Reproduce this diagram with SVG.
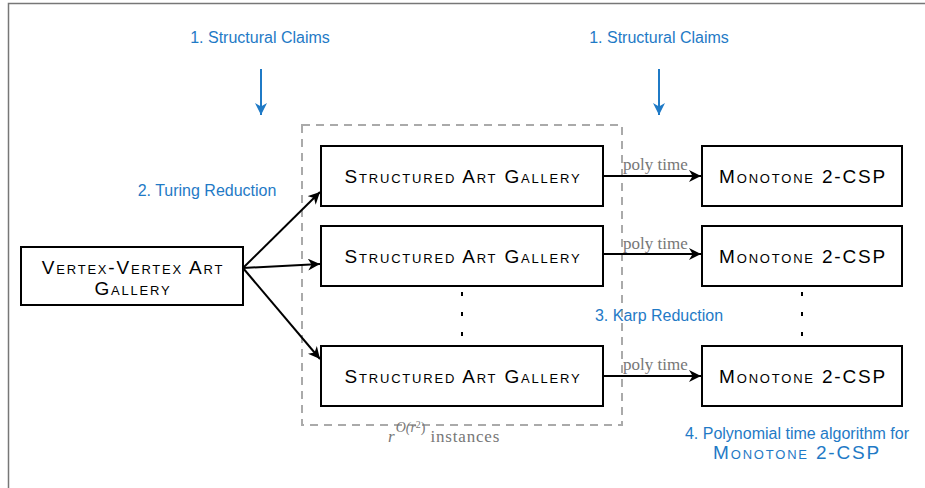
<svg xmlns="http://www.w3.org/2000/svg" width="925" height="488" viewBox="0 0 925 488">
<defs>
<style>
.box{fill:#fff;stroke:#000;stroke-width:2}
.sc{font-family:"Liberation Sans",Arial,sans-serif;font-size:19px;font-variant:small-caps;letter-spacing:1.8px;fill:#000;text-anchor:middle}
.blue{font-family:"Liberation Sans",Arial,sans-serif;font-size:16px;fill:#1f7ac6;text-anchor:middle}
.gray{font-family:"Liberation Serif","Times New Roman",serif;font-size:17px;fill:#777}
.ar{stroke:#000;stroke-width:2;fill:none;marker-end:url(#ah)}
.bar{stroke:#1f7ac6;stroke-width:2;fill:none;marker-end:url(#bh)}
.dot{fill:#000}
</style>
<marker id="ah" viewBox="0 0 10 10" refX="10" refY="5" markerWidth="6" markerHeight="6" markerUnits="strokeWidth" orient="auto"><path d="M0,0 L10,5 L0,10 L3,5 z" fill="#000"/></marker>
<marker id="bh" viewBox="0 0 10 10" refX="10" refY="5" markerWidth="6" markerHeight="6" markerUnits="strokeWidth" orient="auto"><path d="M0,0 L10,5 L0,10 L3,5 z" fill="#1f7ac6"/></marker>
</defs>
<rect width="925" height="488" fill="#fff"/>
<path d="M8.5,488 V3.5 H925" fill="none" stroke="#777" stroke-width="1.5"/>
<rect x="302" y="125" width="320" height="300" fill="none" stroke="#aaa" stroke-width="2" stroke-dasharray="8,6"/>
<g id="connectors">
<line class="ar" x1="243" y1="268" x2="320" y2="192"/>
<line class="ar" x1="243" y1="268" x2="320" y2="264"/>
<line class="ar" x1="243" y1="268" x2="320" y2="359"/>
<line class="ar" x1="603" y1="176" x2="701" y2="176"/>
<line class="ar" x1="603" y1="254" x2="701" y2="254"/>
<line class="ar" x1="603" y1="376" x2="701" y2="376"/>
<line class="bar" x1="261" y1="69" x2="261" y2="115"/>
<line class="bar" x1="659" y1="69" x2="659" y2="115"/>
</g>
<g id="vv">
<rect class="box" x="21" y="247" width="222" height="58"/>
<text class="sc" x="133" y="274">Vertex-Vertex Art</text>
<text class="sc" x="133" y="295">Gallery</text>
</g>
<g id="sag1"><rect class="box" x="321" y="146" width="282" height="60"/><text class="sc" x="463" y="183">Structured Art Gallery</text></g>
<g id="sag2"><rect class="box" x="321" y="226" width="282" height="60"/><text class="sc" x="463" y="263">Structured Art Gallery</text></g>
<g id="sag3"><rect class="box" x="321" y="346" width="282" height="60"/><text class="sc" x="463" y="383">Structured Art Gallery</text></g>
<g id="m1"><rect class="box" x="702" y="146" width="200" height="60"/><text class="sc" x="803" y="183">Monotone 2-CSP</text></g>
<g id="m2"><rect class="box" x="702" y="226" width="200" height="60"/><text class="sc" x="803" y="263">Monotone 2-CSP</text></g>
<g id="m3"><rect class="box" x="702" y="346" width="200" height="60"/><text class="sc" x="803" y="383">Monotone 2-CSP</text></g>
<g id="dots">
<rect class="dot" x="461" y="292" width="2" height="4"/>
<rect class="dot" x="461" y="312" width="2" height="4"/>
<rect class="dot" x="461" y="332" width="2" height="4"/>
<rect class="dot" x="801" y="292" width="2" height="4"/>
<rect class="dot" x="801" y="312" width="2" height="4"/>
<rect class="dot" x="801" y="332" width="2" height="4"/>
</g>
<g id="labels">
<text class="gray" x="623" y="170">poly time</text>
<text class="gray" x="623" y="249">poly time</text>
<text class="gray" x="623" y="370">poly time</text>
<text class="gray" x="388" y="442"><tspan font-style="italic">r</tspan><tspan font-size="14" font-style="italic" dy="-10" dx="1">O(r</tspan><tspan font-size="10" dy="-4">2</tspan><tspan font-size="14" dy="4">)</tspan><tspan dy="10" dx="5" letter-spacing="0.8">instances</tspan></text>
<text class="blue" x="260" y="43">1. Structural Claims</text>
<text class="blue" x="659" y="43">1. Structural Claims</text>
<text class="blue" x="207" y="196">2. Turing Reduction</text>
<text class="blue" x="659" y="321">3. Karp Reduction</text>
<text class="blue" x="797" y="439">4. Polynomial time algorithm for</text>
<text class="blue" x="797" y="459" style="font-variant:small-caps;letter-spacing:1.8px;font-size:19px">Monotone 2-CSP</text>
</g>
</svg>
